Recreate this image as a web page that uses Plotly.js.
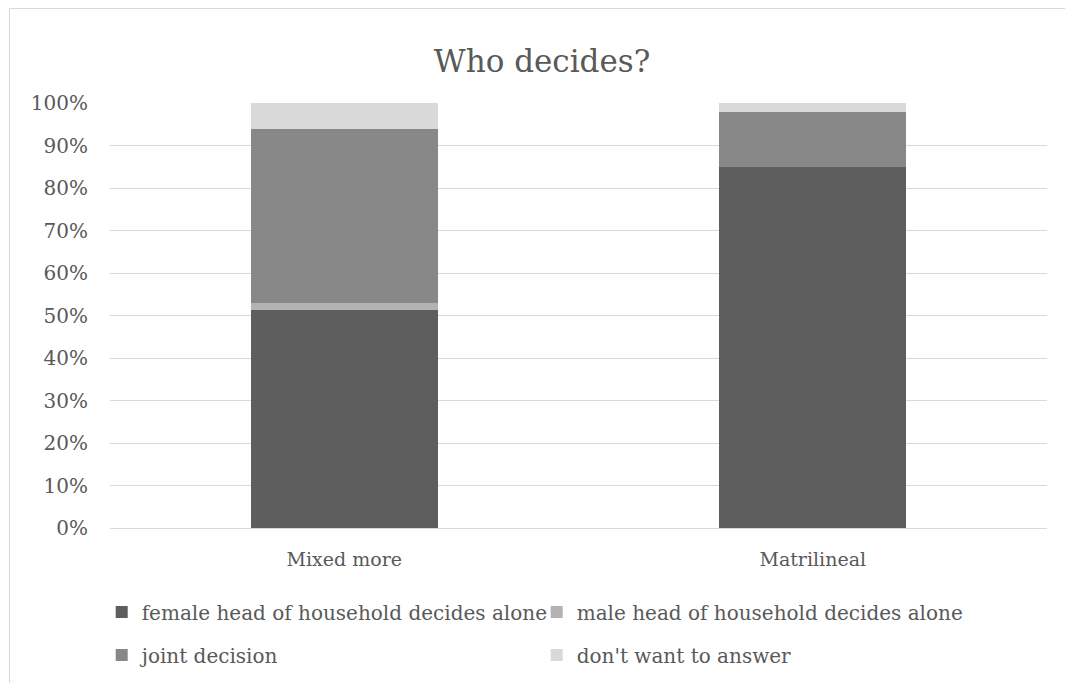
<!DOCTYPE html>
<html>
<head>
<meta charset="utf-8">
<script src="https://cdn.plot.ly/plotly-3.0.1.min.js"></script>
<style>
  html, body { margin: 0; padding: 0; background: #fff; }
  #frame { position: absolute; left: 9px; top: 8px; width: 1070px; height: 690px; border: 1px solid #d9d9d9; box-sizing: border-box; }
  #chart { position: absolute; left: 0; top: 0; width: 1065px; height: 683px; }
</style>
</head>
<body>
<div id="frame"></div>
<div id="chart"></div>
<script>
const categories = ['Mixed more', 'Matrilineal'];
const femaleAlone = [0.513, 0.849];
const maleAlone = [0.016, 0.0];
const jointDecision = [0.409, 0.129];
const noAnswer = [0.062, 0.022];
const yTicks = [0, 0.1, 0.2, 0.3, 0.4, 0.5, 0.6, 0.7, 0.8, 0.9, 1.0];

const FONT = 'DejaVu Serif';
const TEXT = '#595959';

function series(name, values, color, legendId) {
  return {
    type: 'bar', name: name, x: categories, y: values,
    marker: { color: color, line: { width: 0 } },
    legend: legendId,
    hoverinfo: 'skip'
  };
}

const data = [
  series('female head of household decides alone', femaleAlone, '#5e5e5e', 'legend'),
  series('male head of household decides alone', maleAlone, '#b3b3b3', 'legend'),
  series('joint decision', jointDecision, '#888888', 'legend2'),
  series("don't want to answer", noAnswer, '#d9d9d9', 'legend2')
];

const legendStyle = {
  orientation: 'h', xref: 'container', yref: 'container', xanchor: 'left', yanchor: 'middle',
  font: { family: FONT, size: 20, color: TEXT },
  itemwidth: 30, entrywidth: 390, entrywidthmode: 'pixels',
  traceorder: 'normal', bgcolor: 'rgba(0,0,0,0)'
};

const layout = {
  width: 1065, height: 683,
  margin: { l: 110, r: 18, t: 103, b: 155 },
  paper_bgcolor: 'rgba(0,0,0,0)', plot_bgcolor: '#fff',
  barmode: 'stack', bargap: 0.6,
  font: { family: FONT, color: TEXT },
  title: { text: 'Who decides?', x: 0.509, xref: 'container', y: 0.91, yref: 'container', yanchor: 'middle',
           font: { family: FONT, size: 31, color: TEXT } },
  xaxis: { type: 'category', showgrid: false, showline: true, linecolor: '#d9d9d9', linewidth: 1,
           ticks: '', tickfont: { family: FONT, size: 19, color: TEXT }, ticklabelstandoff: 14 },
  yaxis: { range: [0, 1], tickvals: yTicks, tickformat: '.0%', showgrid: true, gridcolor: '#d9d9d9', gridwidth: 1,
           zeroline: false, showline: false, ticks: '', tickfont: { family: FONT, size: 20, color: TEXT }, ticklabelstandoff: 21 },
  showlegend: true,
  legend: Object.assign({}, legendStyle, { x: 0.0955, y: 1 - 612 / 683 }),
  legend2: Object.assign({}, legendStyle, { x: 0.0955, y: 1 - 655 / 683 })
};

Plotly.newPlot('chart', data, layout, { displayModeBar: false, staticPlot: true });
</script>
</body>
</html>
